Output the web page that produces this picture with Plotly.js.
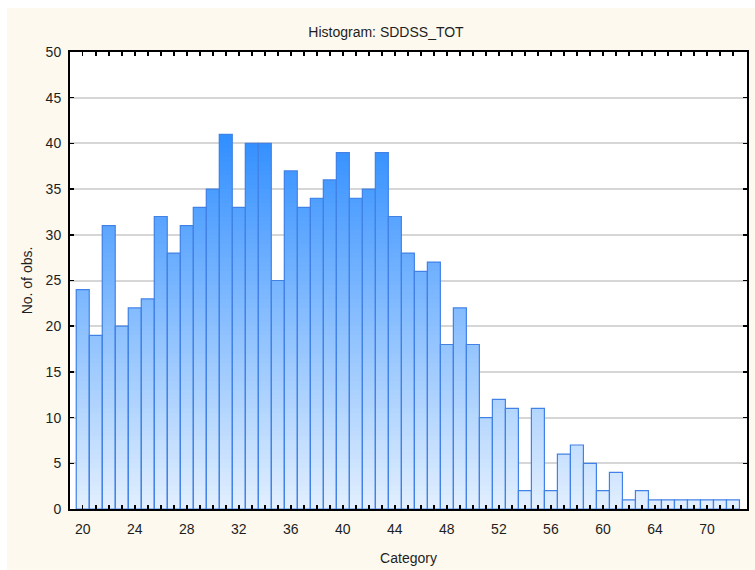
<!DOCTYPE html>
<html>
<head>
<meta charset="utf-8">
<script src="https://cdn.plot.ly/plotly-3.0.1.min.js"></script>
<style>
  html, body { margin: 0; padding: 0; background: #ffffff; width: 755px; height: 570px; overflow: hidden; }
  #chart { position: absolute; left: 7px; top: 8px; width: 748px; height: 562px; }
</style>
</head>
<body>
<div id="chart"></div>
<script>
// Data
const categories = [20,21,22,23,24,25,26,27,28,29,30,31,32,33,34,35,36,37,38,39,40,41,42,43,44,45,46,47,48,49,50,51,52,53,54,55,56,57,58,59,60,61,62,63,64,65,66,67,68,69,70];
const counts = [24,19,31,20,22,23,32,28,31,33,35,41,33,40,40,25,37,33,34,36,39,34,35,39,32,28,26,27,18,22,18,10,12,11,2,11,2,6,7,5,2,4,1,2,1,1,1,1,1,1,1];
const tickPositions = [20,24,28,32,36,40,44,48,52,56,60,64,68];
const tickLabels = ["20","24","28","32","36","40","44","48","52","56","60","64","70"];
const yTicks = [0,5,10,15,20,25,30,35,40,45,50];

// Vertical gradient built from stacked thin slices
const bottomColor = [226, 239, 254];
const topColor = [48, 142, 255];
const gradTop = 41;
const step = 0.5;
const maxCount = Math.max(...counts);
const traces = [];
for (let k = 0; k < maxCount; k += step) {
  const t = Math.min(1, (k + step / 2) / gradTop);
  const c = bottomColor.map((b, i) => Math.round(b + (topColor[i] - b) * t));
  traces.push({
    type: 'bar',
    x: categories,
    y: counts.map(v => Math.max(0, Math.min(step, v - k))),
    base: categories.map(() => k),
    width: 1,
    marker: { color: `rgb(${c[0]},${c[1]},${c[2]})`, line: { width: 0 } },
    hoverinfo: 'skip',
    showlegend: false
  });
}
// Outline trace
traces.push({
  type: 'bar',
  x: categories,
  y: counts,
  base: categories.map(() => 0),
  width: 1,
  marker: { color: 'rgba(0,0,0,0)', line: { color: 'rgb(66,130,230)', width: 1.2 } },
  hoverinfo: 'skip',
  showlegend: false
});

const ticktext = categories.map(c => {
  const i = tickPositions.indexOf(c);
  return i >= 0 ? tickLabels[i] : '';
});

const font = { family: 'Liberation Sans, Arial, sans-serif', size: 14, color: '#1e1e1e' };

const layout = {
  width: 748,
  height: 562,
  paper_bgcolor: '#fdf9ee',
  plot_bgcolor: '#ffffff',
  barmode: 'overlay',
  bargap: 0,
  margin: { l: 63, r: 8, t: 44, b: 61, pad: 0 },
  font: font,
  title: {
    text: 'Histogram: SDDSS_TOT',
    font: font,
    xref: 'container', yref: 'container',
    x: 0.5067, y: 0.957,
    xanchor: 'center', yanchor: 'middle'
  },
  xaxis: {
    range: [19.02, 71.08],
    tickmode: 'array',
    tickvals: categories,
    ticktext: ticktext,
    ticks: 'inside',
    ticklen: 4,
    tickwidth: 1.5,
    tickcolor: '#000',
    showline: true,
    linecolor: '#000',
    linewidth: 2,
    mirror: 'ticks',
    showgrid: false,
    zeroline: false,
    ticklabelstandoff: 6,
    tickfont: font,
    title: { text: 'Category', font: font, standoff: 17 }
  },
  yaxis: {
    range: [0, 50],
    tickmode: 'array',
    tickvals: yTicks,
    ticks: 'inside',
    ticklen: 4,
    tickwidth: 1.5,
    tickcolor: '#000',
    showline: true,
    linecolor: '#000',
    linewidth: 2,
    mirror: 'ticks',
    showgrid: true,
    gridcolor: '#d6d6d6',
    gridwidth: 2,
    zeroline: false,
    ticklabelstandoff: 4,
    tickfont: font,
    title: { text: 'No. of obs.', font: font, standoff: 10 }
  }
};

Plotly.newPlot('chart', traces, layout, { displayModeBar: false, staticPlot: true });
</script>
</body>
</html>
